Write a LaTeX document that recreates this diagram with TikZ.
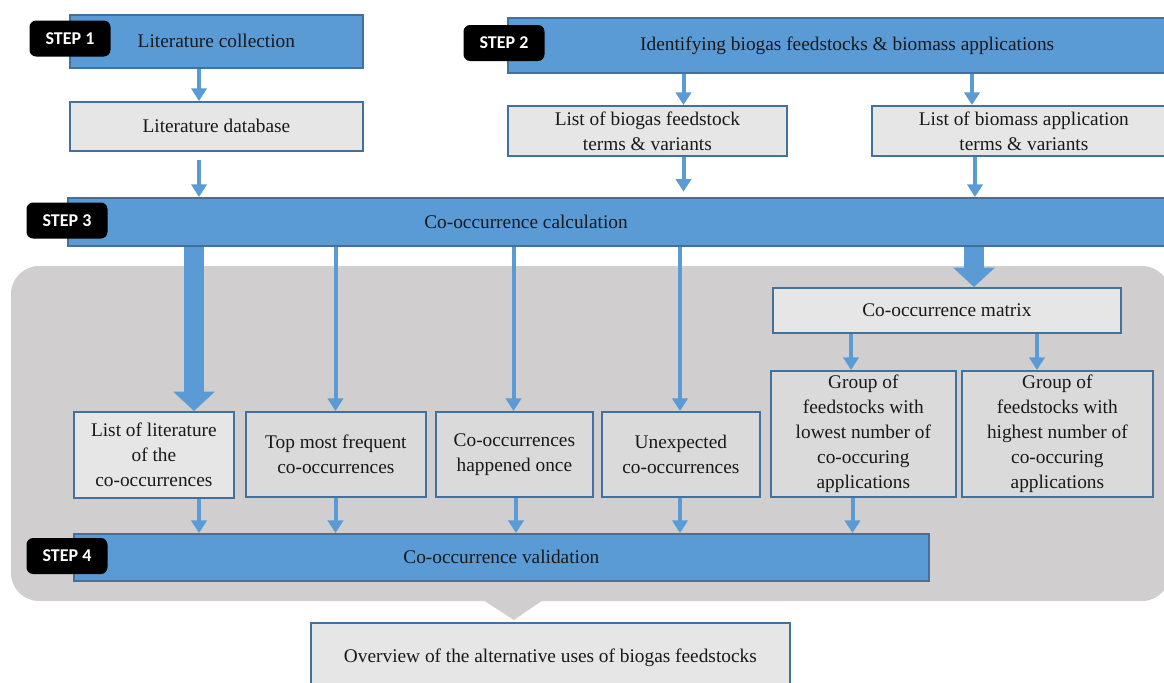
\documentclass[tikz,border=0pt]{standalone}
\usepackage{fontspec}
\setmainfont{Liberation Serif}
\newfontfamily\stepfont{Carlito}
\usetikzlibrary{arrows.meta}
\definecolor{stepblue}{HTML}{5B9BD5}
\definecolor{edgeblue}{HTML}{41719C}
\definecolor{bggray}{HTML}{D0CECE}
\definecolor{lightbox}{HTML}{E7E6E6}
\definecolor{darkbox}{HTML}{DBDADA}
\newcommand\pbox[7]{\node[#6, anchor=north west, minimum width=(#4-#2)*0.75pt, minimum height=(#5-#3)*0.75pt] (#1) at (#2,#3) {#7};}
\tikzset{
  basebox/.style={draw=edgeblue, line width=1.3pt, inner sep=0pt, align=center,
    font=\fontsize{14.5}{18.75}\selectfont, text=black!90},
  stepbox/.style={basebox, fill=stepblue},
  lbox/.style={basebox, fill=lightbox},
  dbox/.style={basebox, fill=darkbox},
  steplab/.style={fill=black, rounded corners=5pt, text=white, inner sep=0pt,
    minimum width=81*0.75pt, minimum height=36*0.75pt, font=\stepfont\bfseries\fontsize{13.5}{14}\selectfont},
  arr/.style={draw=stepblue, line width=3pt, -{Triangle[width=11.5pt,length=9.5pt]}},
  bigarr/.style={draw=stepblue, line width=15pt, -{Triangle[width=30.5pt,length=14.5pt]}},
}
\begin{document}
\begin{tikzpicture}[x=0.75pt,y=-0.75pt]
\useasboundingbox (0,0) rectangle (1164,682);
% gray panel
\fill[bggray, rounded corners=21pt] (11,266) rectangle (1170,601);
\fill[bggray] (483,600) -- (543,600) -- (514,620) -- cycle;

% boxes
\pbox{s1}{69}{14}{362}{67}{stepbox}{Literature collection}
\pbox{litdb}{69}{101}{362}{150}{lbox}{Literature database}
\pbox{s2}{507}{17}{1175}{72}{stepbox}{\hspace*{8pt}Identifying biogas feedstocks \& biomass applications}
\pbox{bio}{507}{105}{786}{155}{lbox}{List of biogas feedstock\\terms \& variants}
\pbox{app}{871}{105}{1175}{155}{lbox}{List of biomass application\\terms \& variants}
\pbox{s3}{67}{197}{1175}{245}{stepbox}{}
\node[font=\fontsize{14.5}{18.75}\selectfont, text=black!90] (s3t) at (526,222) {Co-occurrence calculation};
\pbox{mat}{772}{287}{1120}{332}{lbox}{Co-occurrence matrix}
\pbox{low}{770}{370}{955}{496}{dbox}{Group of\\feedstocks with\\lowest number of\\co-occuring\\applications}
\pbox{high}{961}{370}{1152}{496}{dbox}{Group of\\feedstocks with\\highest number of\\co-occuring\\applications}
\pbox{lit}{73}{411}{233}{497}{lbox}{List of literature\\of the\\co-occurrences}
\pbox{top}{245}{411}{425}{496}{dbox}{Top most frequent\\co-occurrences}
\pbox{once}{435}{411}{592}{496}{dbox}{Co-occurrences\\happened once}
\pbox{unexp}{601}{411}{759}{496}{dbox}{Unexpected\\co-occurrences}
\pbox{s4}{73}{533}{928}{580}{stepbox}{Co-occurrence validation}
\pbox{ov}{310}{622}{789}{692}{lbox}{Overview of the alternative uses of biogas feedstocks}

% step labels
\node[steplab] (l1) at (70,38.5) {STEP 1};
\node[steplab] (l2) at (504,43) {STEP 2};
\node[steplab] (l3) at (67,220.5) {STEP 3};
\node[steplab] (l4) at (67,556) {STEP 4};

% column coordinates
\coordinate (x199) at (199,0);
\coordinate (x194) at (194,0);
\coordinate (x335) at (335.5,0);
\coordinate (x513) at (513.5,0);
\coordinate (x516) at (516,0);
\coordinate (x680) at (680,0);
\coordinate (x684) at (683.5,0);
\coordinate (x972) at (972,0);
\coordinate (x975) at (975,0);
\coordinate (x974) at (974,0);
\coordinate (x851) at (851,0);
\coordinate (x853) at (852.5,0);
\coordinate (x1037) at (1037,0);

% connectors
\draw[arr] (s1.south -| x199) -- (litdb.north -| x199);
\draw[arr] ([yshift=-6pt]litdb.south -| x199) -- (s3.north -| x199);
\draw[arr] (s2.south -| x684) -- (bio.north -| x684);
\draw[arr] (s2.south -| x972) -- (app.north -| x972);
\draw[arr] (bio.south -| x684) -- ([yshift=4pt]s3.north -| x684);
\draw[arr] (app.south -| x975) -- (s3.north -| x975);
\draw[bigarr] (s3.south -| x194) -- (lit.north -| x194);
\draw[arr] (s3.south -| x335) -- (top.north -| x335);
\draw[arr] (s3.south -| x513) -- (once.north -| x513);
\draw[arr] (s3.south -| x680) -- (unexp.north -| x680);
\draw[bigarr] (s3.south -| x974) -- (mat.north -| x974);
\draw[arr] (mat.south -| x851) -- (low.north -| x851);
\draw[arr] (mat.south -| x1037) -- (high.north -| x1037);
\draw[arr] (lit.south -| x199) -- (s4.north -| x199);
\draw[arr] (top.south -| x335) -- (s4.north -| x335);
\draw[arr] (once.south -| x516) -- (s4.north -| x516);
\draw[arr] (unexp.south -| x680) -- (s4.north -| x680);
\draw[arr] (low.south -| x853) -- (s4.north -| x853);
\end{tikzpicture}
\end{document}
